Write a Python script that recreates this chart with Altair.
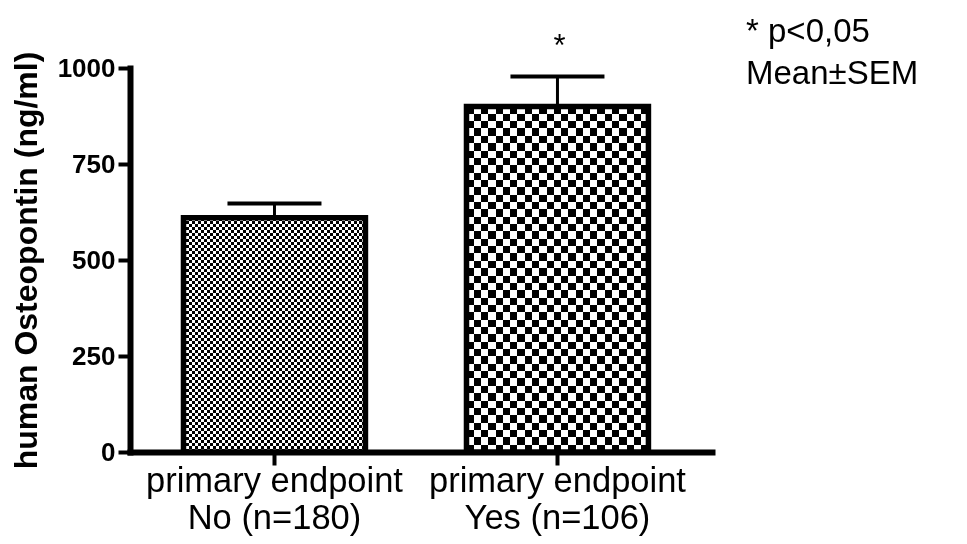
import altair as alt
import pandas as pd

# ---- data ----
categories = ["primary endpoint\nNo (n=180)", "primary endpoint\nYes (n=106)"]
means = [610, 900]
sems = [37, 78]
significance = ["", "*"]
y_ticks = [0, 250, 500, 750, 1000]
y_title = "human Osteopontin (ng/ml)"
notes = ["* p<0,05", "Mean\u00b1SEM"]

# ---- layout / style ----
PLOT_W, PLOT_H = 582, 384
Y_MAX = 1000
BAR_W = 182
SQUARE_PX = [3.0, 7.3]   # checker square size per bar
FONT = "Liberation Sans"

df = pd.DataFrame({"group": categories, "mean": means, "sem": sems, "sig": significance})
df["upper"] = df["mean"] + df["sem"]

base = alt.Chart(df)

x_enc = alt.X(
    "group:N",
    sort=categories,
    scale=alt.Scale(paddingInner=0.357, paddingOuter=0.2068, align=0.457),
    axis=alt.Axis(
        title=None,
        labelExpr="split(datum.label, '\\n')",
        labelAngle=0,
        labelLimit=0,
        labelFont=FONT,
        labelFontSize=34.5,
        labelColor="black",
        labelLineHeight=37,
        labelPadding=-1,
        labelBaseline="top",
        domainColor="black",
        domainWidth=6,
        domainCap="square",
        tickColor="black",
        tickWidth=4,
        tickSize=13,
    ),
)
y_axis = alt.Axis(
    title=y_title,
    values=y_ticks,
    format="d",
    grid=False,
    labelFont=FONT,
    labelFontSize=26,
    labelFontWeight="bold",
    labelColor="black",
    labelPadding=3,
    titleFont=FONT,
    titleFontSize=32,
    titleFontWeight="bold",
    titleColor="black",
    titlePadding=14,
    titleLimit=0,
    domainColor="black",
    domainWidth=6,
    domainCap="square",
    tickColor="black",
    tickWidth=4,
    tickSize=12,
)
y_scale = alt.Scale(domain=[0, Y_MAX], nice=False, zero=True)


def stripes(n, vertical):
    stops = []
    for i in range(n):
        c = "black" if i % 2 == 0 else "white"
        stops.append(alt.GradientStop(offset=i / n, color=c))
        stops.append(alt.GradientStop(offset=(i + 1) / n, color=c))
    if vertical:
        return alt.LinearGradient(gradient="linear", stops=stops, x1=0, x2=1, y1=0, y2=0)
    return alt.LinearGradient(gradient="linear", stops=stops, x1=0, x2=0, y1=0, y2=1)


layers = []
for cat, m, sq in zip(categories, means, SQUARE_PX):
    n_cols = max(1, round(BAR_W / sq))
    n_rows = max(1, round(m / Y_MAX * PLOT_H / sq))
    sub = base.transform_filter(alt.datum.group == cat)
    layers.append(
        sub.mark_bar(fill=stripes(n_cols, True)).encode(
            x=x_enc, y=alt.Y("mean:Q", scale=y_scale, axis=y_axis)
        )
    )
    layers.append(
        sub.mark_bar(fill=stripes(n_rows, False), blend="difference").encode(
            x=x_enc, y=alt.Y("mean:Q", scale=y_scale, axis=y_axis)
        )
    )

outline = base.mark_bar(
    fillOpacity=0, stroke="black", strokeWidth=5.5, strokeJoin="miter"
).encode(x=x_enc, y=alt.Y("mean:Q", scale=y_scale, axis=y_axis))

err = base.mark_rule(color="black", strokeWidth=3).encode(
    x=x_enc, y=alt.Y("mean:Q", scale=y_scale, axis=y_axis), y2="upper:Q"
)
cap = base.mark_tick(color="black", opacity=1, thickness=4, size=94).encode(
    x=x_enc, y=alt.Y("upper:Q", scale=y_scale, axis=y_axis)
)
star = base.mark_text(font=FONT, fontSize=31, color="black", dx=2, dy=-20, baseline="alphabetic").encode(
    x=x_enc, y=alt.Y("upper:Q", scale=y_scale, axis=y_axis), text="sig:N"
)

chart = alt.layer(*layers, outline, err, cap, star).properties(
    width=PLOT_W,
    height=PLOT_H,
    autosize=alt.AutoSizeParams(type="none"),
    padding={"left": 122, "top": 60, "right": 240, "bottom": 84},
    background="white",
    title=alt.TitleParams(
        text=notes,
        orient="top",
        anchor="end",
        align="left",
        frame="group",
        dx=34,
        dy=60,
        fontSize=33,
        fontWeight="normal",
        font=FONT,
        color="black",
        lineHeight=42,
        baseline="top",
        offset=0,
    ),
).configure_view(stroke=None)

chart.save("out.html", embed_options={"renderer": "svg", "actions": False})
